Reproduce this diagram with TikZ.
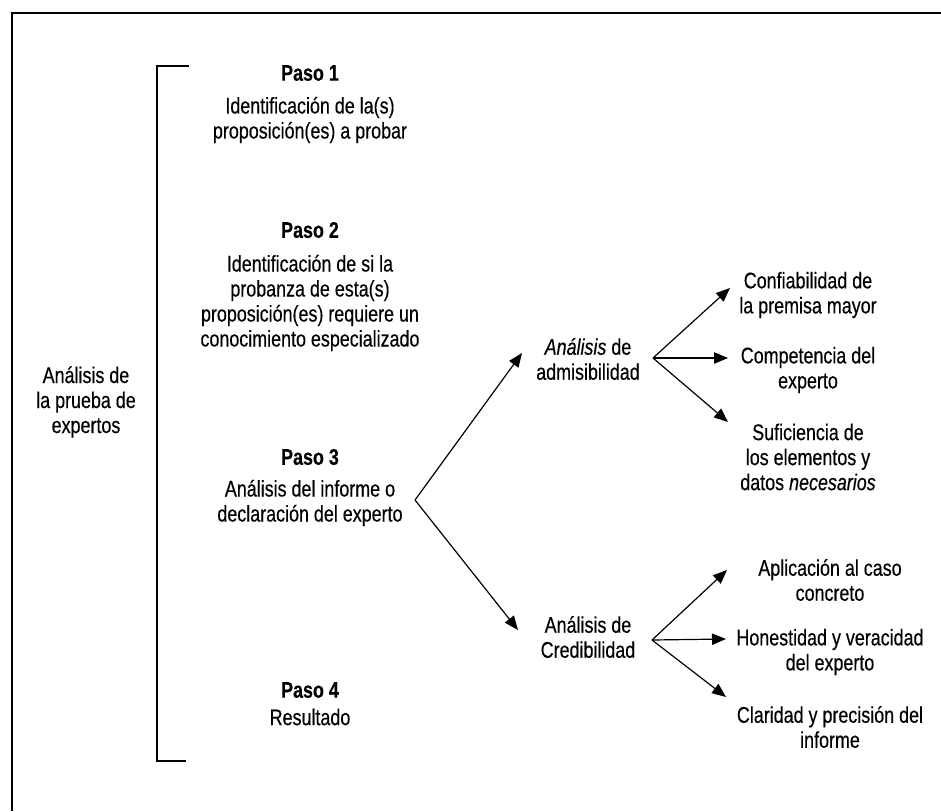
\documentclass[tikz,border=0pt]{standalone}
\usepackage{fontspec}
\setmainfont[FakeStretch=0.79,FakeBold=0.4]{Liberation Sans}
\usetikzlibrary{arrows.meta,calc}
\tikzset{
  txt/.style={align=center,inner sep=0pt,font=\fontsize{17}{18.75}\selectfont},
  conn/.style={line width=0.9pt,-{Triangle[length=10.5pt,width=8.5pt]}},
  frame/.style={line width=1.5pt},
  brk/.style={line width=0.9pt}
}
\begin{document}
\begin{tikzpicture}[x=0.75pt,y=-0.75pt]
\useasboundingbox (0,0) rectangle (941,811);
% frame (top and left only visible)
\draw[frame] (941,13) -- (12,13) -- (12,811);
% bracket
\draw[brk] (189,66) -- (157,66) -- (157,761) -- (186,761);
% left label
\node[txt] (lab) at (86,402) {Análisis de\\la prueba de\\expertos};
% steps
\node[txt] (p1h) at (310,73) {\bfseries Paso 1};
\node[txt] (p1) at (310,120) {Identificación de la(s)\\proposición(es) a probar};
\node[txt] (p2h) at (310,230) {\bfseries Paso 2};
\node[txt] (p2) at (310,303) {Identificación de si la\\probanza de esta(s)\\proposición(es) requiere un\\conocimiento especializado};
\node[txt] (p3h) at (310,457) {\bfseries Paso 3};
\node[txt] (p3) at (310,503) {Análisis del informe o\\declaración del experto};
\node[txt] (p4h) at (310,690) {\bfseries Paso 4};
\node[txt] (p4) at (310,717) {Resultado};
% middle
\node[txt] (adm) at (588,359) {\itshape Análisis\upshape{} de\\admisibilidad};
\node[txt] (cred) at (588,637) {Análisis de\\Credibilidad};
% right column
\node[txt] (conf) at (808,295) {Confiabilidad de\\la premisa mayor};
\node[txt] (comp) at (808,370) {Competencia del\\experto};
\node[txt] (suf) at (808,457) {Suficiencia de\\los elementos y\\datos \textit{necesarios}};
\node[txt] (apl) at (830,580) {Aplicación al caso\\concreto};
\node[txt] (hon) at (830,652) {Honestidad y veracidad\\del experto};
\node[txt] (cla) at (830,727) {Claridad y precisión del\\informe};
% branch points
\coordinate (v1) at (415,500);
\coordinate (v2) at (653,358);
\coordinate (v3) at (652,640);
% connectors
\draw[conn] (v1) -- (522,353);
\draw[conn] (v1) -- (518,630);
\draw[conn] (v2) -- (730,288);
\draw[conn] (v2) -- (728,358);
\draw[conn] (v2) -- (728,422);
\draw[conn] (v3) -- (727,570);
\draw[conn] (v3) -- (726,639);
\draw[conn] (v3) -- (726,697);
\end{tikzpicture}
\end{document}
